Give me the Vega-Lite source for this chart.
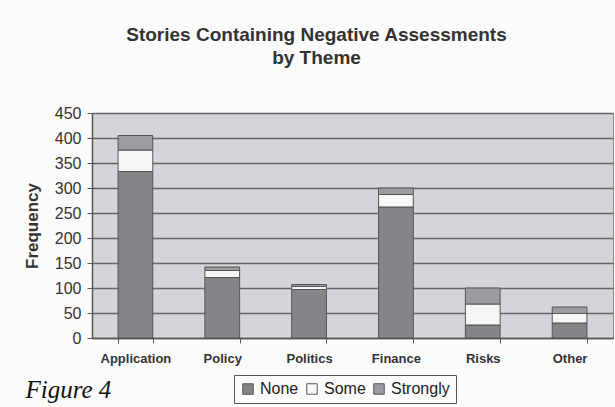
{
  "$schema": "https://vega.github.io/schema/vega-lite/v6.json",
  "width": 521,
  "height": 225,
  "autosize": {"type": "none"},
  "padding": {"left": 92, "top": 113, "right": 2, "bottom": 69},
  "background": "#fbfbfb",
  "title": {
    "text": ["Stories Containing Negative Assessments", "by Theme"],
    "anchor": "middle",
    "frame": "group",
    "dx": -36,
    "offset": 37,
    "font": "Liberation Sans",
    "fontSize": 19,
    "fontWeight": "bold",
    "color": "#333333",
    "lineHeight": 23
  },
  "data": {
    "values": [
      {"Theme": "Application", "Assessment": "None", "Frequency": 333},
      {"Theme": "Application", "Assessment": "Some", "Frequency": 43},
      {"Theme": "Application", "Assessment": "Strongly", "Frequency": 29},
      {"Theme": "Policy", "Assessment": "None", "Frequency": 121},
      {"Theme": "Policy", "Assessment": "Some", "Frequency": 14},
      {"Theme": "Policy", "Assessment": "Strongly", "Frequency": 7},
      {"Theme": "Politics", "Assessment": "None", "Frequency": 97},
      {"Theme": "Politics", "Assessment": "Some", "Frequency": 6},
      {"Theme": "Politics", "Assessment": "Strongly", "Frequency": 4},
      {"Theme": "Finance", "Assessment": "None", "Frequency": 262},
      {"Theme": "Finance", "Assessment": "Some", "Frequency": 25},
      {"Theme": "Finance", "Assessment": "Strongly", "Frequency": 13},
      {"Theme": "Risks", "Assessment": "None", "Frequency": 26},
      {"Theme": "Risks", "Assessment": "Some", "Frequency": 42},
      {"Theme": "Risks", "Assessment": "Strongly", "Frequency": 32},
      {"Theme": "Other", "Assessment": "None", "Frequency": 30},
      {"Theme": "Other", "Assessment": "Some", "Frequency": 19},
      {"Theme": "Other", "Assessment": "Strongly", "Frequency": 13}
    ]
  },
  "mark": {"type": "bar", "stroke": "#555555", "strokeWidth": 1},
  "encoding": {
    "x": {
      "field": "Theme",
      "type": "nominal",
      "sort": ["Application", "Policy", "Politics", "Finance", "Risks", "Other"],
      "scale": {"paddingInner": 0.6, "paddingOuter": 0.3},
      "axis": {
        "title": "Figure 4",
        "titleFont": "Liberation Serif",
        "titleFontStyle": "italic",
        "titleFontWeight": "normal",
        "titleFontSize": 25,
        "titleColor": "#111111",
        "titleAlign": "left",
        "titleBaseline": "alphabetic",
        "titleAnchor": "start",
        "titleX": -67,
        "titleY": 59,
        "labelAngle": 0,
        "labelFont": "Liberation Sans",
        "labelFontSize": 13,
        "labelFontWeight": "bold",
        "labelColor": "#333333",
        "labelPadding": 9,
        "tickBand": "extent",
        "tickSize": 5,
        "tickColor": "#555555",
        "domainColor": "#555555",
        "domainWidth": 1.5
      }
    },
    "y": {
      "field": "Frequency",
      "type": "quantitative",
      "stack": "zero",
      "scale": {"domain": [0, 450], "nice": false},
      "axis": {
        "values": [0, 50, 100, 150, 200, 250, 300, 350, 400, 450],
        "title": "Frequency",
        "titleFont": "Liberation Sans",
        "titleFontSize": 17,
        "titleFontWeight": "bold",
        "titleColor": "#333333",
        "titleBaseline": "middle",
        "titleX": -60,
        "labelFont": "Liberation Sans",
        "labelFontSize": 16,
        "labelColor": "#333333",
        "labelPadding": 6,
        "tickSize": 5,
        "tickColor": "#555555",
        "domainColor": "#555555",
        "domainWidth": 1.5,
        "gridColor": "#666666",
        "gridWidth": 1.3
      }
    },
    "color": {
      "field": "Assessment",
      "type": "nominal",
      "scale": {"domain": ["None", "Some", "Strongly"], "range": ["#858589", "#f6f6f6", "#9c9ca0"]},
      "legend": {
        "title": null,
        "orient": "none",
        "direction": "horizontal",
        "legendX": 142,
        "legendY": 262,
        "strokeColor": "#555555",
        "fillColor": "#fbfbfb",
        "padding": 6,
        "symbolType": "square",
        "symbolSize": 110,
        "symbolStrokeColor": "#555555",
        "symbolStrokeWidth": 1,
        "labelFont": "Liberation Sans",
        "labelFontSize": 16,
        "labelColor": "#222222",
        "labelOffset": 4,
        "columnPadding": 5
      }
    },
    "order": {"field": "Assessment", "sort": "ascending"}
  },
  "config": {
    "view": {"fill": "#d4d5d8", "stroke": "#888888", "strokeWidth": 1}
  }
}
